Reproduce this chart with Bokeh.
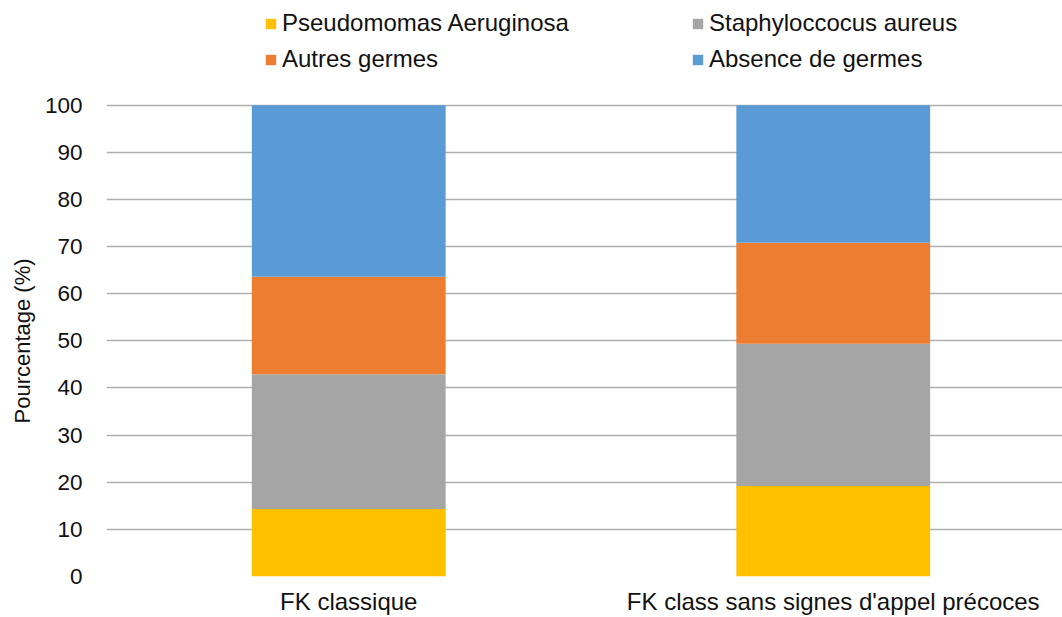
from bokeh.plotting import figure
from bokeh.models import (ColumnDataSource, Range1d, FixedTicker, Legend, LegendItem, Title)
from bokeh.embed import file_html
from bokeh.resources import INLINE

categories = ["FK classique", "FK class sans signes d'appel précoces"]
series_names = ["Pseudomomas Aeruginosa", "Staphyloccocus aureus", "Autres germes", "Absence de germes"]
pseudomonas = [14.3, 19.2]
staphylococcus = [28.6, 30.2]
autres = [20.7, 21.4]
absence = [36.4, 29.2]
y_ticks = [0, 10, 20, 30, 40, 50, 60, 70, 80, 90, 100]
y_label = "Pourcentage (%)"

colors = ["#FFC000", "#A5A5A5", "#ED7D31", "#5B9BD5"]
FONT = "Liberation Sans"
TXT = "#111111"

W, H = 1062, 617
LEFT = 105
FRAME_BOTTOM = 578   # pixel row of value 0
FRAME_100 = 105      # pixel row of value 100
xs = [i + 0.5 for i in range(len(categories))]
keys = ["p", "s", "a", "b"]
src = ColumnDataSource(dict(x=xs, p=pseudomonas, s=staphylococcus, a=autres, b=absence))

# the frame reaches the top of the canvas so the legend can live inside it
p = figure(width=W, height=H, output_backend="svg", toolbar_location=None,
           x_range=Range1d(0, (W - LEFT) / 485),
           y_range=Range1d(0, 100 * FRAME_BOTTOM / (FRAME_BOTTOM - FRAME_100)),
           min_border_left=LEFT, min_border_right=0, min_border_top=0,
           min_border_bottom=H - FRAME_BOTTOM)
p.outline_line_color = None

rs = p.vbar_stack(keys, x="x", width=0.4, source=src, color=colors, line_color=None)

# axes
p.yaxis.ticker = FixedTicker(ticks=y_ticks)
p.yaxis.axis_line_color = None
p.yaxis.major_tick_line_color = None
p.yaxis.minor_tick_line_color = None
p.yaxis.major_label_standoff = 18
p.yaxis.major_label_text_font = FONT
p.yaxis.major_label_text_font_size = "22.5px"
p.yaxis.major_label_text_color = TXT

p.add_layout(Title(text=y_label, align="left", offset=FRAME_BOTTOM - 425,
                   text_font=FONT, text_font_size="22px", text_font_style="normal",
                   text_color=TXT, standoff=14), "left")

p.xaxis.ticker = FixedTicker(ticks=xs)
p.xaxis.major_label_overrides = {x: c for x, c in zip(xs, categories)}
p.xaxis.axis_line_color = None
p.xaxis.major_tick_line_color = None
p.xaxis.minor_tick_line_color = None
p.xaxis.major_label_standoff = 5
p.xaxis.major_label_text_font = FONT
p.xaxis.major_label_text_font_size = "24px"
p.xaxis.major_label_text_color = TXT

p.xgrid.grid_line_color = None
p.ygrid.grid_line_color = "#AFAFAF"
p.ygrid.grid_line_width = 1.5
p.ygrid.ticker = FixedTicker(ticks=y_ticks)

def make_legend(idx, loc):
    its = [LegendItem(label=series_names[i], renderers=[rs[i]]) for i in idx]
    return Legend(items=its, location=loc, orientation="horizontal",
                  glyph_width=13, glyph_height=13, label_standoff=5, label_width=409,
                  spacing=0, padding=0, margin=0, border_line_color=None,
                  background_fill_alpha=0, label_text_font=FONT,
                  label_text_font_size="24px", label_text_color=TXT, label_height=13)

p.add_layout(make_legend([0, 1], (158, 539)), "center")
p.add_layout(make_legend([2, 3], (158, 503)), "center")

open("out.html", "w").write(file_html(p, INLINE))
